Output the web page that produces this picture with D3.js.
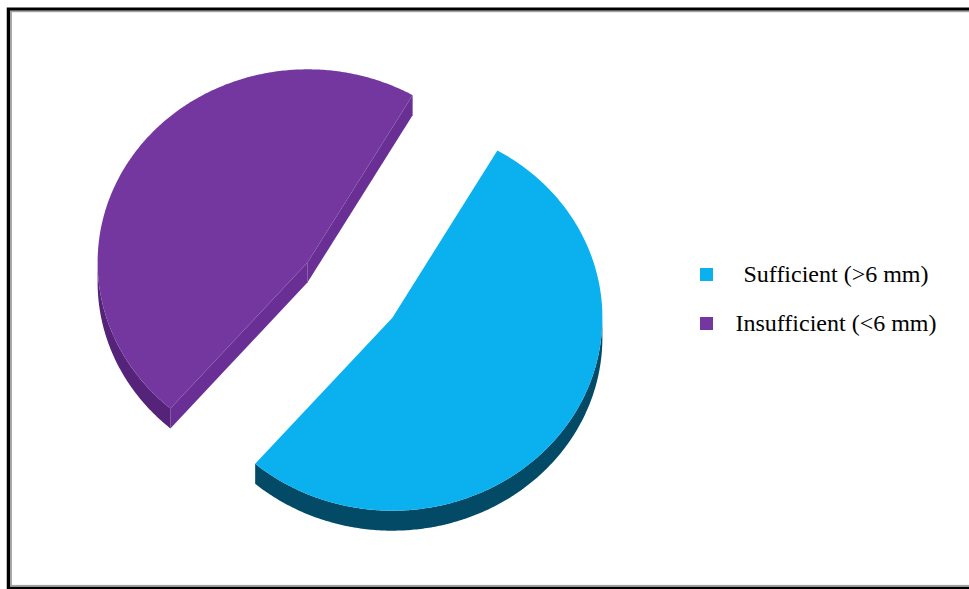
<!DOCTYPE html>
<html><head><meta charset="utf-8">
<script src="https://cdn.jsdelivr.net/npm/d3@7/dist/d3.min.js"></script>
<style>html,body{margin:0;padding:0;background:#fff;overflow:hidden}</style>
</head><body>
<svg id="chart" width="969" height="589"></svg>
<script>
const categories = ["Sufficient (>6 mm)", "Insufficient (<6 mm)"];
const values = [53, 47];
const topColors = ["#0BB1EE", "#7437A0"];
const sideColors = ["#034A67", "#552379"];
const faceColors = ["#0A8FC0", "#6A2F95"];

const svg = d3.select("#chart");
// frame
svg.append("rect").attr("x", 8.5).attr("y", 9.25).attr("width", 1000).attr("height", 579)
  .attr("fill", "none").attr("stroke", "#000").attr("stroke-width", 3.5);
svg.append("rect").attr("x", 11).attr("y", 11.3).attr("width", 1000).attr("height", 574.5)
  .attr("fill", "none").attr("stroke", "#a0a0a0").attr("stroke-width", 1.8);

const cx = 350, cy = 290, rx = 210, ry = 193, depth = 20, explode = 52;
const pie = d3.pie().sort(null).startAngle(30 * Math.PI / 180).endAngle(390 * Math.PI / 180);
const arcs = pie(values);

const sx = d3.scaleLinear().domain([-1, 1]).range([-rx, rx]);
const sy = d3.scaleLinear().domain([-1, 1]).range([-ry, ry]);

function pt(t, ox, oy, dz) {
  return [cx + ox + sx(Math.sin(t)), cy + oy - sy(Math.cos(t)) + (dz || 0)];
}
function rimPts(a0, a1, ox, oy, dz) {
  const n = Math.max(2, Math.ceil(Math.abs(a1 - a0) / 0.01));
  const pts = [];
  for (let i = 0; i <= n; i++) pts.push(pt(a0 + (a1 - a0) * i / n, ox, oy, dz));
  return pts;
}
const line = d3.line();
const g = svg.append("g");

// draw back slice (purple) first, then cyan
const order = [1, 0];
order.forEach(i => {
  const a = arcs[i];
  const mid = (a.startAngle + a.endAngle) / 2;
  const ox = explode * Math.sin(mid);
  const oy = -explode * Math.cos(mid) * ry / rx;
  const c = [cx + ox, cy + oy];
  const cb = [c[0], c[1] + depth];
  const sg = g.append("g");
  // radial faces (visible if facing down)
  [[a.startAngle, a.startAngle - Math.PI / 2], [a.endAngle, a.endAngle + Math.PI / 2]].forEach(([t, nrm]) => {
    if (-Math.cos(nrm) > 0) {
      const p = pt(t, ox, oy), pb = pt(t, ox, oy, depth);
      sg.append("path").attr("d", line([c, p, pb, cb]) + "Z").attr("fill", faceColors[i]);
    }
  });
  // curved side: visible part where angle in [PI/2, 3PI/2] mod 2PI
  for (let k = -1; k <= 1; k++) {
    const lo = Math.max(a.startAngle, Math.PI / 2 + k * 2 * Math.PI);
    const hi = Math.min(a.endAngle, 3 * Math.PI / 2 + k * 2 * Math.PI);
    if (hi > lo) {
      const topP = rimPts(lo, hi, ox, oy, 0);
      const botP = rimPts(hi, lo, ox, oy, depth);
      sg.append("path").attr("d", line(topP.concat(botP)) + "Z").attr("fill", sideColors[i]);
    }
  }
  // top face
  const topPts = [c].concat(rimPts(a.startAngle, a.endAngle, ox, oy, 0));
  sg.append("path").attr("d", line(topPts) + "Z").attr("fill", topColors[i]);
});

// legend
const lg = svg.append("g");
categories.forEach((name, i) => {
  const y = 275 + i * 49;
  lg.append("rect").attr("x", 700).attr("y", y - 7).attr("width", 13).attr("height", 13).attr("fill", topColors[i]);
  lg.append("text").attr("x", 836).attr("y", y + 7).attr("text-anchor", "middle")
    .attr("font-family", "'Liberation Serif', 'Times New Roman', serif").attr("font-size", 24)
    .attr("fill", "#000").text(name);
});
</script>
</body></html>
